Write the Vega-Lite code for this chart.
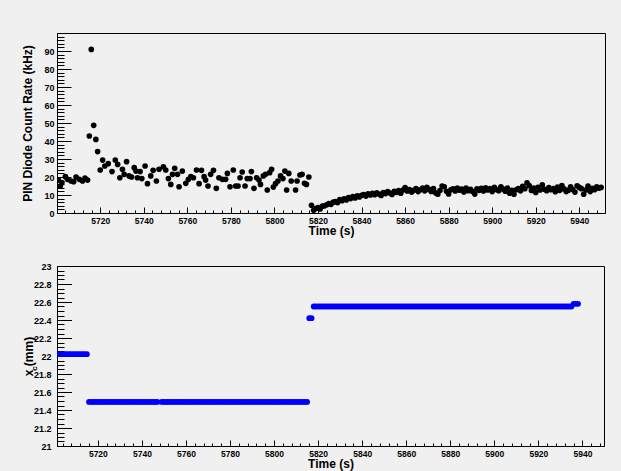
{
  "$schema": "https://vega.github.io/schema/vega-lite/v6.json",
  "background": "#f0f0f0",
  "padding": {"left": 21, "top": 32, "right": 16, "bottom": 1},
  "spacing": 24,
  "config": {
    "font": "Liberation Sans",
    "view": {"stroke": "black", "strokeWidth": 1, "fill": "#f0f0f0"},
    "axis": {
      "grid": false,
      "domainColor": "black",
      "tickColor": "black",
      "labelColor": "black",
      "titleColor": "black",
      "labelFont": "Liberation Sans",
      "titleFont": "Liberation Sans",
      "labelFontWeight": "bold",
      "titleFontWeight": "bold",
      "titleFontSize": 12,
      "labelFontSize": 8.5
    }
  },
  "datasets": {
    "rate": [
      {"t":5700.8,"rate":18.3},{"t":5701.7,"rate":15},{"t":5702.4,"rate":16.9},{"t":5704.0,"rate":20.2},{"t":5705.0,"rate":18.7},{"t":5706.6,"rate":17.8},{"t":5707.8,"rate":17.4},{"t":5708.9,"rate":20},{"t":5710.4,"rate":18.7},{"t":5711.9,"rate":17.8},{"t":5713.0,"rate":19.4},{"t":5714.2,"rate":18.3},{"t":5715.0,"rate":42.8},{"t":5715.9,"rate":90.9},{"t":5717.0,"rate":48.7},{"t":5718.0,"rate":40.9},{"t":5718.8,"rate":34.1},{"t":5720.0,"rate":23.9},{"t":5721.1,"rate":29.4},{"t":5722.1,"rate":26.1},{"t":5723.7,"rate":27.4},{"t":5725.4,"rate":23},{"t":5726.9,"rate":29.4},{"t":5728.0,"rate":27},{"t":5729.0,"rate":19.6},{"t":5730.2,"rate":24.3},{"t":5731.0,"rate":21.5},{"t":5732.1,"rate":28.5},{"t":5733.3,"rate":20.6},{"t":5734.4,"rate":20},{"t":5735.6,"rate":25.2},{"t":5736.4,"rate":23.3},{"t":5737.1,"rate":19.6},{"t":5738.3,"rate":23},{"t":5739.1,"rate":19.1},{"t":5740.6,"rate":26.1},{"t":5741.7,"rate":16.3},{"t":5743.2,"rate":20.6},{"t":5744.3,"rate":23.7},{"t":5745.8,"rate":17.8},{"t":5747.0,"rate":24.3},{"t":5749.0,"rate":25.7},{"t":5750.1,"rate":23.9},{"t":5751.3,"rate":19.1},{"t":5752.4,"rate":15.9},{"t":5753.2,"rate":21.5},{"t":5754.2,"rate":24.8},{"t":5755.5,"rate":21.5},{"t":5756.2,"rate":14.6},{"t":5757.7,"rate":23.3},{"t":5759.3,"rate":16.5},{"t":5760.5,"rate":18.7},{"t":5761.6,"rate":20.2},{"t":5762.8,"rate":19.6},{"t":5764.2,"rate":23.9},{"t":5765.4,"rate":16.3},{"t":5766.5,"rate":23.7},{"t":5767.7,"rate":20.2},{"t":5768.4,"rate":18.3},{"t":5769.5,"rate":15},{"t":5770.7,"rate":21.5},{"t":5772.0,"rate":23.7},{"t":5773.3,"rate":13.7},{"t":5774.5,"rate":19.6},{"t":5776.1,"rate":18.7},{"t":5777.6,"rate":18.7},{"t":5778.4,"rate":22},{"t":5779.6,"rate":14.6},{"t":5781.1,"rate":23.9},{"t":5782.2,"rate":15},{"t":5783.3,"rate":15},{"t":5784.2,"rate":19.6},{"t":5785.2,"rate":22.8},{"t":5786.5,"rate":15},{"t":5787.5,"rate":19.1},{"t":5788.8,"rate":19.1},{"t":5789.4,"rate":23},{"t":5790.6,"rate":13.7},{"t":5791.8,"rate":19.6},{"t":5792.9,"rate":18.3},{"t":5793.6,"rate":15.9},{"t":5794.9,"rate":20.6},{"t":5795.9,"rate":21.5},{"t":5796.7,"rate":12.8},{"t":5797.8,"rate":22.4},{"t":5798.7,"rate":24.3},{"t":5799.5,"rate":14.4},{"t":5800.5,"rate":16.3},{"t":5801.6,"rate":17.8},{"t":5802.8,"rate":20.6},{"t":5803.9,"rate":19.1},{"t":5804.8,"rate":23.3},{"t":5805.6,"rate":12.8},{"t":5806.6,"rate":22},{"t":5807.7,"rate":17.8},{"t":5809.7,"rate":12.8},{"t":5810.4,"rate":17.8},{"t":5811.7,"rate":21.1},{"t":5812.7,"rate":21.5},{"t":5813.8,"rate":16.5},{"t":5814.7,"rate":15.9},{"t":5815.8,"rate":20},
      {"t":5817,"rate":4.3},{"t":5818,"rate":1.5},{"t":5819,"rate":2.5},{"t":5820,"rate":3.0},{"t":5821,"rate":2.2},{"t":5822,"rate":3.8},{"t":5823,"rate":4.0},{"t":5824,"rate":4.6},{"t":5825,"rate":5.2},{"t":5826,"rate":4.8},{"t":5827,"rate":6.0},{"t":5828,"rate":6.3},{"t":5829,"rate":5.8},{"t":5830,"rate":7.4},{"t":5831,"rate":6.8},{"t":5832,"rate":7.9},{"t":5833,"rate":7.2},{"t":5834,"rate":8.5},{"t":5835,"rate":8.0},{"t":5836,"rate":9.1},{"t":5837,"rate":8.4},{"t":5838,"rate":9.6},{"t":5839,"rate":8.9},{"t":5840,"rate":9.8},{"t":5841,"rate":10.3},{"t":5842,"rate":9.4},{"t":5843,"rate":10.6},{"t":5844,"rate":10.0},{"t":5845,"rate":10.9},{"t":5846,"rate":10.2},{"t":5847,"rate":11.2},{"t":5848,"rate":10.5},{"t":5849,"rate":9.7},{"t":5850,"rate":11.4},{"t":5851,"rate":10.8},{"t":5852,"rate":11.9},{"t":5853,"rate":11.1},{"t":5854,"rate":10.3},{"t":5855,"rate":12.0},{"t":5856,"rate":11.5},{"t":5857,"rate":12.4},{"t":5858,"rate":11.0},{"t":5859,"rate":12.8},{"t":5860,"rate":14.1},{"t":5861,"rate":12.2},{"t":5862,"rate":13.0},{"t":5863,"rate":11.6},{"t":5864,"rate":12.6},{"t":5865,"rate":13.5},{"t":5866,"rate":11.9},{"t":5867,"rate":12.9},{"t":5868,"rate":13.8},{"t":5869,"rate":12.3},{"t":5870,"rate":14.2},{"t":5871,"rate":13.1},{"t":5872,"rate":12.0},{"t":5873,"rate":13.6},{"t":5874,"rate":11.2},{"t":5875,"rate":10.4},{"t":5876,"rate":12.5},{"t":5877,"rate":15.0},{"t":5878,"rate":14.6},{"t":5879,"rate":12.1},{"t":5880,"rate":10.6},{"t":5881,"rate":12.9},{"t":5882,"rate":13.4},{"t":5883,"rate":12.2},{"t":5884,"rate":13.8},{"t":5885,"rate":12.7},{"t":5886,"rate":13.3},{"t":5887,"rate":11.7},{"t":5888,"rate":13.9},{"t":5889,"rate":12.4},{"t":5890,"rate":13.1},{"t":5891,"rate":12.0},{"t":5892,"rate":10.5},{"t":5893,"rate":13.4},{"t":5894,"rate":12.6},{"t":5895,"rate":13.7},{"t":5896,"rate":12.2},{"t":5897,"rate":14.0},{"t":5898,"rate":12.8},{"t":5899,"rate":13.5},{"t":5900,"rate":11.9},{"t":5901,"rate":14.2},{"t":5902,"rate":13.0},{"t":5903,"rate":12.4},{"t":5904,"rate":14.5},{"t":5905,"rate":13.3},{"t":5906,"rate":12.1},{"t":5907,"rate":13.8},{"t":5908,"rate":11.0},{"t":5909,"rate":12.6},{"t":5910,"rate":10.4},{"t":5911,"rate":12.9},{"t":5912,"rate":13.6},{"t":5913,"rate":12.3},{"t":5914,"rate":14.8},{"t":5915,"rate":13.5},{"t":5916,"rate":16.8},{"t":5917,"rate":15.2},{"t":5918,"rate":12.5},{"t":5919,"rate":13.9},{"t":5920,"rate":11.4},{"t":5921,"rate":14.3},{"t":5922,"rate":12.8},{"t":5923,"rate":15.6},{"t":5924,"rate":13.2},{"t":5925,"rate":12.4},{"t":5926,"rate":14.1},{"t":5927,"rate":12.9},{"t":5928,"rate":13.6},{"t":5929,"rate":11.8},{"t":5930,"rate":14.4},{"t":5931,"rate":12.6},{"t":5932,"rate":15.3},{"t":5933,"rate":13.4},{"t":5934,"rate":11.9},{"t":5935,"rate":12.7},{"t":5936,"rate":14.6},{"t":5937,"rate":13.0},{"t":5938,"rate":11.6},{"t":5939,"rate":15.1},{"t":5940,"rate":14.2},{"t":5941,"rate":13.5},{"t":5942,"rate":10.4},{"t":5943,"rate":12.8},{"t":5944,"rate":14.9},{"t":5945,"rate":11.9},{"t":5946,"rate":13.7},{"t":5947,"rate":12.9},{"t":5948,"rate":14.6},{"t":5949,"rate":13.8},{"t":5950,"rate":14.2}
    ],
    "pos": [
      {"t":5702,"xc":22.02},{"t":5703,"xc":22.02},{"t":5704,"xc":22.02},{"t":5705,"xc":22.02},{"t":5706,"xc":22.02},{"t":5707,"xc":22.02},{"t":5708,"xc":22.02},{"t":5709,"xc":22.02},{"t":5710,"xc":22.02},{"t":5711,"xc":22.02},{"t":5712,"xc":22.02},{"t":5713,"xc":22.02},{"t":5714,"xc":22.02},{"t":5715,"xc":22.02},
      {"t":5716,"xc":21.49},{"t":5717,"xc":21.49},{"t":5718,"xc":21.49},{"t":5719,"xc":21.49},{"t":5720,"xc":21.49},{"t":5721,"xc":21.49},{"t":5722,"xc":21.49},{"t":5723,"xc":21.49},{"t":5724,"xc":21.49},{"t":5725,"xc":21.49},{"t":5726,"xc":21.49},{"t":5727,"xc":21.49},{"t":5728,"xc":21.49},{"t":5729,"xc":21.49},{"t":5730,"xc":21.49},{"t":5731,"xc":21.49},{"t":5732,"xc":21.49},{"t":5733,"xc":21.49},{"t":5734,"xc":21.49},{"t":5735,"xc":21.49},{"t":5736,"xc":21.49},{"t":5737,"xc":21.49},{"t":5738,"xc":21.49},{"t":5739,"xc":21.49},{"t":5740,"xc":21.49},{"t":5741,"xc":21.49},{"t":5742,"xc":21.49},{"t":5743,"xc":21.49},{"t":5744,"xc":21.49},{"t":5745,"xc":21.49},{"t":5746,"xc":21.49},{"t":5747,"xc":21.49},
      {"t":5749,"xc":21.49},{"t":5750,"xc":21.49},{"t":5751,"xc":21.49},{"t":5752,"xc":21.49},{"t":5753,"xc":21.49},{"t":5754,"xc":21.49},{"t":5755,"xc":21.49},{"t":5756,"xc":21.49},{"t":5757,"xc":21.49},{"t":5758,"xc":21.49},{"t":5759,"xc":21.49},{"t":5760,"xc":21.49},{"t":5761,"xc":21.49},{"t":5762,"xc":21.49},{"t":5763,"xc":21.49},{"t":5764,"xc":21.49},{"t":5765,"xc":21.49},{"t":5766,"xc":21.49},{"t":5767,"xc":21.49},{"t":5768,"xc":21.49},{"t":5769,"xc":21.49},{"t":5770,"xc":21.49},{"t":5771,"xc":21.49},{"t":5772,"xc":21.49},{"t":5773,"xc":21.49},{"t":5774,"xc":21.49},{"t":5775,"xc":21.49},{"t":5776,"xc":21.49},{"t":5777,"xc":21.49},{"t":5778,"xc":21.49},{"t":5779,"xc":21.49},{"t":5780,"xc":21.49},{"t":5781,"xc":21.49},{"t":5782,"xc":21.49},{"t":5783,"xc":21.49},{"t":5784,"xc":21.49},{"t":5785,"xc":21.49},{"t":5786,"xc":21.49},{"t":5787,"xc":21.49},{"t":5788,"xc":21.49},{"t":5789,"xc":21.49},{"t":5790,"xc":21.49},{"t":5791,"xc":21.49},{"t":5792,"xc":21.49},{"t":5793,"xc":21.49},{"t":5794,"xc":21.49},{"t":5795,"xc":21.49},{"t":5796,"xc":21.49},{"t":5797,"xc":21.49},{"t":5798,"xc":21.49},{"t":5799,"xc":21.49},{"t":5800,"xc":21.49},{"t":5801,"xc":21.49},{"t":5802,"xc":21.49},{"t":5803,"xc":21.49},{"t":5804,"xc":21.49},{"t":5805,"xc":21.49},{"t":5806,"xc":21.49},{"t":5807,"xc":21.49},{"t":5808,"xc":21.49},{"t":5809,"xc":21.49},{"t":5810,"xc":21.49},{"t":5811,"xc":21.49},{"t":5812,"xc":21.49},{"t":5813,"xc":21.49},{"t":5814,"xc":21.49},{"t":5815,"xc":21.49},
      {"t":5816,"xc":22.42},{"t":5817,"xc":22.42},
      {"t":5818,"xc":22.55},{"t":5819,"xc":22.55},{"t":5820,"xc":22.55},{"t":5821,"xc":22.55},{"t":5822,"xc":22.55},{"t":5823,"xc":22.55},{"t":5824,"xc":22.55},{"t":5825,"xc":22.55},{"t":5826,"xc":22.55},{"t":5827,"xc":22.55},{"t":5828,"xc":22.55},{"t":5829,"xc":22.55},{"t":5830,"xc":22.55},{"t":5831,"xc":22.55},{"t":5832,"xc":22.55},{"t":5833,"xc":22.55},{"t":5834,"xc":22.55},{"t":5835,"xc":22.55},{"t":5836,"xc":22.55},{"t":5837,"xc":22.55},{"t":5838,"xc":22.55},{"t":5839,"xc":22.55},{"t":5840,"xc":22.55},{"t":5841,"xc":22.55},{"t":5842,"xc":22.55},{"t":5843,"xc":22.55},{"t":5844,"xc":22.55},{"t":5845,"xc":22.55},{"t":5846,"xc":22.55},{"t":5847,"xc":22.55},{"t":5848,"xc":22.55},{"t":5849,"xc":22.55},{"t":5850,"xc":22.55},{"t":5851,"xc":22.55},{"t":5852,"xc":22.55},{"t":5853,"xc":22.55},{"t":5854,"xc":22.55},{"t":5855,"xc":22.55},{"t":5856,"xc":22.55},{"t":5857,"xc":22.55},{"t":5858,"xc":22.55},{"t":5859,"xc":22.55},{"t":5860,"xc":22.55},{"t":5861,"xc":22.55},{"t":5862,"xc":22.55},{"t":5863,"xc":22.55},{"t":5864,"xc":22.55},{"t":5865,"xc":22.55},{"t":5866,"xc":22.55},{"t":5867,"xc":22.55},{"t":5868,"xc":22.55},{"t":5869,"xc":22.55},{"t":5870,"xc":22.55},{"t":5871,"xc":22.55},{"t":5872,"xc":22.55},{"t":5873,"xc":22.55},{"t":5874,"xc":22.55},{"t":5875,"xc":22.55},{"t":5876,"xc":22.55},{"t":5877,"xc":22.55},{"t":5878,"xc":22.55},{"t":5879,"xc":22.55},{"t":5880,"xc":22.55},{"t":5881,"xc":22.55},{"t":5882,"xc":22.55},{"t":5883,"xc":22.55},{"t":5884,"xc":22.55},{"t":5885,"xc":22.55},{"t":5886,"xc":22.55},{"t":5887,"xc":22.55},{"t":5888,"xc":22.55},{"t":5889,"xc":22.55},{"t":5890,"xc":22.55},{"t":5891,"xc":22.55},{"t":5892,"xc":22.55},{"t":5893,"xc":22.55},{"t":5894,"xc":22.55},{"t":5895,"xc":22.55},{"t":5896,"xc":22.55},{"t":5897,"xc":22.55},{"t":5898,"xc":22.55},{"t":5899,"xc":22.55},{"t":5900,"xc":22.55},{"t":5901,"xc":22.55},{"t":5902,"xc":22.55},{"t":5903,"xc":22.55},{"t":5904,"xc":22.55},{"t":5905,"xc":22.55},{"t":5906,"xc":22.55},{"t":5907,"xc":22.55},{"t":5908,"xc":22.55},{"t":5909,"xc":22.55},{"t":5910,"xc":22.55},{"t":5911,"xc":22.55},{"t":5912,"xc":22.55},{"t":5913,"xc":22.55},{"t":5914,"xc":22.55},{"t":5915,"xc":22.55},{"t":5916,"xc":22.55},{"t":5917,"xc":22.55},{"t":5918,"xc":22.55},{"t":5919,"xc":22.55},{"t":5920,"xc":22.55},{"t":5921,"xc":22.55},{"t":5922,"xc":22.55},{"t":5923,"xc":22.55},{"t":5924,"xc":22.55},{"t":5925,"xc":22.55},{"t":5926,"xc":22.55},{"t":5927,"xc":22.55},{"t":5928,"xc":22.55},{"t":5929,"xc":22.55},{"t":5930,"xc":22.55},{"t":5931,"xc":22.55},{"t":5932,"xc":22.55},{"t":5933,"xc":22.55},{"t":5934,"xc":22.55},{"t":5935,"xc":22.55},
      {"t":5936,"xc":22.58},{"t":5937,"xc":22.58},{"t":5938,"xc":22.58}
    ]
  },
  "vconcat": [
    {
      "width": 548,
      "height": 180,
      "data": {"name": "rate"},
      "layer": [
        {
          "mark": {"type": "circle", "size": 32, "color": "black", "opacity": 1, "clip": true},
          "encoding": {
            "x": {"field": "t", "type": "quantitative",
              "scale": {"domain": [5700.15, 5951.8], "nice": false, "zero": false},
              "axis": {"values": [5720,5740,5760,5780,5800,5820,5840,5860,5880,5900,5920,5940], "format": "d", "tickSize": -6, "labelPadding": 9, "title": "Time (s)", "titlePadding": 0.5, "orient": "bottom"}},
            "y": {"field": "rate", "type": "quantitative",
              "scale": {"domain": [0, 100], "nice": false, "zero": false},
              "axis": {"values": [0,10,20,30,40,50,60,70,80,90], "format": "d", "tickSize": -14, "labelPadding": 17, "labelFontSize": 9, "title": "PIN Diode Count Rate (kHz)", "titlePadding": 9, "orient": "left"}}
          }
        },
        {
          "mark": {"type": "circle", "opacity": 0},
          "encoding": {
            "x": {"field": "t", "type": "quantitative",
              "axis": {"values": [5704,5708,5712,5716,5724,5728,5732,5736,5744,5748,5752,5756,5764,5768,5772,5776,5784,5788,5792,5796,5804,5808,5812,5816,5824,5828,5832,5836,5844,5848,5852,5856,5864,5868,5872,5876,5884,5888,5892,5896,5904,5908,5912,5916,5924,5928,5932,5936,5944,5948], "tickSize": -3, "labels": false, "domain": false, "title": null, "orient": "bottom"}},
            "y": {"field": "rate", "type": "quantitative",
              "axis": {"values": [2,4,6,8,12,14,16,18,22,24,26,28,32,34,36,38,42,44,46,48,52,54,56,58,62,64,66,68,72,74,76,78,82,84,86,88,92,94,96,98,100], "tickSize": -7, "labels": false, "domain": false, "title": null, "orient": "left"}}
          }
        }
      ],
      "resolve": {"axis": {"x": "independent", "y": "independent"}}
    },
    {
      "width": 547,
      "height": 180,
      "data": {"name": "pos"},
      "layer": [
        {
          "mark": {"type": "circle", "size": 34, "color": "#0000ff", "opacity": 1, "clip": true},
          "encoding": {
            "x": {"field": "t", "type": "quantitative",
              "scale": {"domain": [5701.45, 5949.8], "nice": false, "zero": false},
              "axis": {"values": [5720,5740,5760,5780,5800,5820,5840,5860,5880,5900,5920,5940], "format": "d", "tickSize": -6, "labelPadding": 9, "title": "Time (s)", "titlePadding": 0.5, "orient": "bottom"}},
            "y": {"field": "xc", "type": "quantitative",
              "scale": {"domain": [21, 23], "nice": false, "zero": false},
              "axis": {"values": [21,21.2,21.4,21.6,21.8,22,22.2,22.4,22.6,22.8,23], "format": "~g", "tickSize": -14.5, "labelPadding": 20.5, "labelFontSize": 9, "title": "x  (mm)", "titlePadding": -2, "orient": "left"}}
          }
        },
        {
          "mark": {"type": "circle", "opacity": 0},
          "encoding": {
            "x": {"field": "t", "type": "quantitative",
              "axis": {"values": [5704,5708,5712,5716,5724,5728,5732,5736,5744,5748,5752,5756,5764,5768,5772,5776,5784,5788,5792,5796,5804,5808,5812,5816,5824,5828,5832,5836,5844,5848,5852,5856,5864,5868,5872,5876,5884,5888,5892,5896,5904,5908,5912,5916,5924,5928,5932,5936,5944,5948], "tickSize": -3, "labels": false, "domain": false, "title": null, "orient": "bottom"}},
            "y": {"field": "xc", "type": "quantitative",
              "axis": {"values": [21.05,21.1,21.15,21.25,21.3,21.35,21.45,21.5,21.55,21.65,21.7,21.75,21.85,21.9,21.95,22.05,22.1,22.15,22.25,22.3,22.35,22.45,22.5,22.55,22.65,22.7,22.75,22.85,22.9,22.95], "tickSize": -7, "labels": false, "domain": false, "title": "c", "titleFontSize": 8, "titleAngle": -90, "titleX": -23, "titleY": 102, "titleAlign": "center", "titleBaseline": "middle", "orient": "left"}}
          }
        }
      ],
      "resolve": {"axis": {"x": "independent", "y": "independent"}}
    }
  ]
}
